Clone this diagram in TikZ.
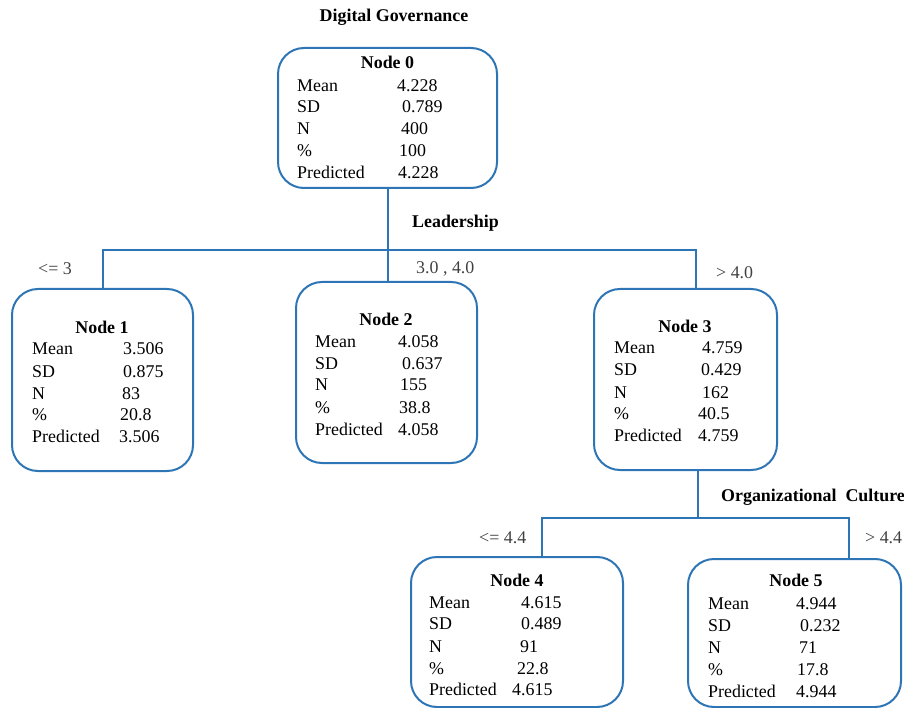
\documentclass[tikz,border=0pt]{standalone}
\usepackage{fontspec}
\setmainfont{Liberation Serif}
\definecolor{treeblue}{RGB}{46,117,182}
\definecolor{splitgray}{RGB}{64,64,64}
% one statistics row: name, label x, baseline, label, value x, value
\newcommand\boxrow[6]{%
  \node[cell] (#1l) at (#2,#3) {#4};
  \node[cell] (#1v) at (#5,#3) {#6};}
\begin{document}
\begin{tikzpicture}[x=1pt,y=-1pt,
  font=\fontsize{17.9}{21}\selectfont,
  leaf/.style={draw=treeblue, line width=2pt, rounded corners=26pt,
               inner sep=0pt, outer sep=0pt},
  link/.style={draw=treeblue, line width=2pt},
  cell/.style={anchor=base west, inner sep=0pt, text=black},
  heading/.style={anchor=base, inner sep=0pt, font=\fontsize{17.9}{21}\selectfont\bfseries},
  varname/.style={anchor=base west, inner sep=0pt, font=\fontsize{17.9}{21}\selectfont\bfseries},
  split/.style={anchor=base west, inner sep=0pt, text=splitgray}]
\useasboundingbox (0,0) rectangle (904,708);

% ---- tree boxes ----
\node[leaf, minimum width=219pt, minimum height=140pt] (n0) at (387.5,118) {};
\node[leaf, minimum width=181pt, minimum height=182pt] (n1) at (102.5,380) {};
\node[leaf, minimum width=181pt, minimum height=181pt] (n2) at (386.5,372.5) {};
\node[leaf, minimum width=183pt, minimum height=181pt] (n3) at (685.5,379.5) {};
\node[leaf, minimum width=212pt, minimum height=150pt] (n4) at (517,632) {};
\node[leaf, minimum width=213pt, minimum height=148pt] (n5) at (794.5,633) {};

% ---- first split: Leadership ----
\coordinate (j0) at (387.5,250);
\coordinate (b1) at (103,250);
\coordinate (b3) at (696,250);
\draw[link] (n0.south) -- (j0);
\draw[link] (b1 |- n1.north) -- (b1) -- (b3) -- (b3 |- n3.north);
\draw[link] (j0) -- (j0 |- n2.north);

% ---- second split: Organizational Culture ----
\coordinate (j3) at (698,518);
\coordinate (b4) at (542,518);
\coordinate (b5) at (849,518);
\draw[link] (j3 |- n3.south) -- (j3);
\draw[link] (b4 |- n4.north) -- (b4) -- (b5) -- (b5 |- n5.north);

% ---- variable names and split values ----
\node[heading] (tdg) at (394,22) {Digital Governance};
\node[varname] (tld) at (412,228) {Leadership};
\node[varname] (toc) at (721,501) {Organizational\ \ Culture};
\node[split] (s1) at (38,275) {<= 3};
\node[split] (s2) at (416,274) {3.0 , 4.0};
\node[split] (s3) at (716,279) {> 4.0};
\node[split] (s4) at (479,543) {<= 4.4};
\node[split] (s5) at (865,543) {> 4.4};

% ---- Node 0 ----
\node[heading] (h0) at (387.5,69) {Node 0};
\boxrow{m0}{297}{92}{Mean}{397}{4.228}
\boxrow{d0}{297}{113}{SD}{402}{0.789}
\boxrow{c0}{297}{135}{N}{401}{400}
\boxrow{p0}{297}{157}{\%}{399}{100}
\boxrow{r0}{297}{179}{Predicted}{398}{4.228}

% ---- Node 1 ----
\node[heading] (h1) at (102,333) {Node 1};
\boxrow{m1}{32}{354}{Mean}{123}{3.506}
\boxrow{d1}{32}{377}{SD}{123}{0.875}
\boxrow{c1}{32}{399}{N}{122}{83}
\boxrow{p1}{32}{420}{\%}{120}{20.8}
\boxrow{r1}{32}{442}{Predicted}{119}{3.506}

% ---- Node 2 ----
\node[heading] (h2) at (386,325) {Node 2};
\boxrow{m2}{315}{347}{Mean}{398}{4.058}
\boxrow{d2}{315}{369}{SD}{402}{0.637}
\boxrow{c2}{315}{390}{N}{400}{155}
\boxrow{p2}{315}{413}{\%}{399}{38.8}
\boxrow{r2}{315}{435}{Predicted}{398}{4.058}

% ---- Node 3 ----
\node[heading] (h3) at (685,332) {Node 3};
\boxrow{m3}{614}{353}{Mean}{702}{4.759}
\boxrow{d3}{614}{375}{SD}{701}{0.429}
\boxrow{c3}{614}{398}{N}{702}{162}
\boxrow{p3}{614}{419}{\%}{698}{40.5}
\boxrow{r3}{614}{441}{Predicted}{698}{4.759}

% ---- Node 4 ----
\node[heading] (h4) at (517,586) {Node 4};
\boxrow{m4}{429}{608}{Mean}{521}{4.615}
\boxrow{d4}{429}{629}{SD}{521}{0.489}
\boxrow{c4}{429}{652}{N}{520}{91}
\boxrow{p4}{429}{674}{\%}{517}{22.8}
\boxrow{r4}{429}{695}{Predicted}{512}{4.615}

% ---- Node 5 ----
\node[heading] (h5) at (796,586) {Node 5};
\boxrow{m5}{708}{609}{Mean}{796}{4.944}
\boxrow{d5}{708}{631}{SD}{800}{0.232}
\boxrow{c5}{708}{653}{N}{799}{71}
\boxrow{p5}{708}{675}{\%}{797}{17.8}
\boxrow{r5}{708}{697}{Predicted}{796}{4.944}
\end{tikzpicture}
\end{document}
